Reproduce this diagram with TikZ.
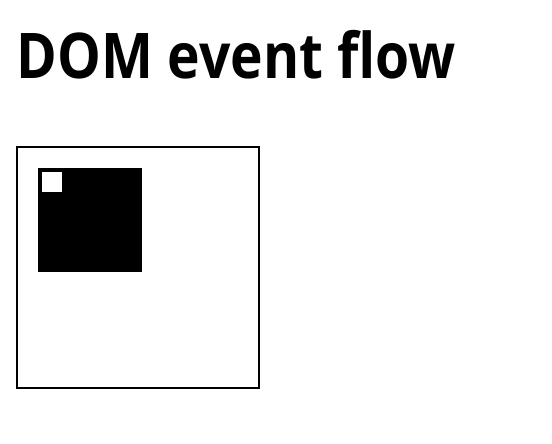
\documentclass[tikz,border=0pt]{standalone}
\usepackage{fontspec}
\usepackage{graphicx}
\setmainfont{Open Sans}
\begin{document}
\begin{tikzpicture}[x=1pt,y=-1pt,
  boxstyle/.style={draw=black,line width=2pt,fill=white,inner sep=0pt,minimum width=242pt,minimum height=241pt},
  blackstyle/.style={fill=black,draw=none,inner sep=0pt,minimum size=104pt},
  whitestyle/.style={fill=white,draw=none,inner sep=0pt,minimum size=20pt}]
\useasboundingbox[fill=white] (0,0) rectangle (552,444);
\node[anchor=base west,inner sep=0pt,font=\fontsize{63}{70}\selectfont\bfseries] (title) at (16.5,79) {\scalebox{0.875}[1]{DOM event flow}};
\node[boxstyle] (outer) at (138,267.5) {};
\node[blackstyle] (inner) at (90,220) {};
\node[whitestyle] (small) at (52,182) {};
\end{tikzpicture}
\end{document}
